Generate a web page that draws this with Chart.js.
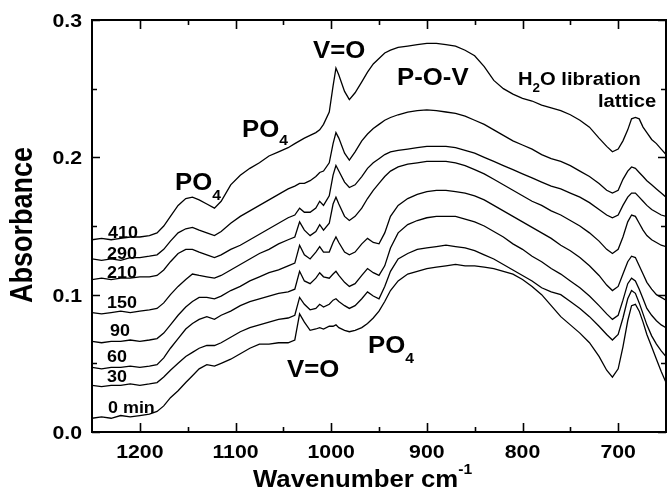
<!DOCTYPE html>
<html>
<head>
<meta charset="utf-8">
<script src="https://cdn.jsdelivr.net/npm/chart.js@4"></script>
<style>
  body { margin: 0; background: #fff; }
  #wrap { width: 667px; height: 489px; }
</style>
</head>
<body>
<div id="wrap"><canvas id="irChart" width="667" height="489"></canvas></div>
<script>
// Wavenumbers (cm-1), shared by all spectra
const wavenumbers = [
  1250, 1240, 1230, 1220, 1210, 1200, 1190, 1182, 1175, 1168,
  1160, 1152, 1145, 1138, 1130, 1122, 1115, 1105, 1095, 1085,
  1075, 1065, 1055, 1045, 1038, 1033, 1028, 1022, 1016, 1012,
  1008, 1002, 998, 995, 992, 986, 981, 975, 968, 962,
  956, 950, 944, 938, 930, 920, 910, 900, 890, 880,
  870, 860, 850, 840, 830, 820, 810, 800, 790, 780,
  770, 760, 750, 740, 730, 720, 712, 706, 700, 695,
  690, 686, 682, 678, 674, 670, 665, 660, 655, 650
];

// Absorbance of each spectrum (time in min)
const abs410 = [
  .140, .141, .140, .141, .142, .142, .143, .145, .150, .157,
  .165, .170, .171, .169, .166, .163, .168, .180, .187, .192,
  .196, .201, .204, .207, .210, .212, .214, .216, .218, .220,
  .224, .233, .252, .265, .260, .248, .242, .247, .255, .262,
  .268, .272, .276, .278, .280, .281, .282, .283, .283, .282,
  .281, .278, .274, .266, .256, .250, .246, .243, .241, .238,
  .236, .234, .231, .227, .222, .214, .208, .204, .206, .212,
  .220, .228, .229, .228, .222, .218, .213, .210, .206, .202
];
const abs290 = [
  .126, .125, .126, .125, .127, .127, .128, .129, .133, .139,
  .145, .148, .149, .147, .145, .143, .146, .152, .157, .161,
  .165, .169, .173, .177, .179, .181, .181, .183, .186, .189,
  .190, .196, .210, .218, .214, .203, .198, .204, .212, .217,
  .221, .224, .227, .229, .231, .233, .234, .2345, .234, .233,
  .232, .230, .227, .224, .220, .216, .212, .209, .206, .202,
  .199, .197, .194, .190, .186, .181, .176, .174, .176, .184,
  .190, .193, .192, .189, .186, .183, .180, .177, .174, .171
];
const abs210 = [
  .111, .112, .111, .112, .112, .113, .113, .114, .118, .124,
  .130, .133, .133, .131, .129, .127, .129, .133, .136, .140,
  .144, .148, .152, .156, .158, .163, .160, .160, .163, .168,
  .165, .172, .187, .194, .190, .182, .178, .180, .186, .192,
  .196, .199, .202, .204, .205, .206, .207, .208, .208, .208,
  .207, .205, .203, .200, .197, .194, .191, .188, .185, .182,
  .179, .177, .174, .171, .167, .162, .158, .156, .158, .165,
  .171, .174, .174, .171, .168, .165, .162, .160, .158, .157
];
const abs150 = [
  .087, .086, .087, .088, .087, .088, .089, .090, .094, .100,
  .106, .111, .115, .114, .113, .112, .114, .118, .122, .126,
  .130, .133, .137, .140, .142, .153, .147, .143, .146, .151,
  .147, .152, .166, .171, .166, .157, .154, .157, .163, .170,
  .176, .181, .186, .190, .193, .195, .196, .197, .197, .197,
  .196, .194, .191, .188, .184, .180, .176, .172, .168, .165,
  .161, .158, .154, .150, .145, .139, .133, .130, .133, .142,
  .153, .158, .157, .152, .147, .143, .140, .138, .136, .135
];
const abs90 = [
  .066, .065, .066, .066, .067, .066, .067, .068, .072, .078,
  .085, .091, .095, .098, .098, .097, .099, .103, .106, .110,
  .113, .116, .118, .121, .123, .136, .129, .126, .131, .135,
  .131, .131, .138, .142, .138, .131, .129, .131, .137, .141,
  .138, .137, .145, .157, .165, .170, .173, .175, .176, .176,
  .175, .174, .172, .169, .165, .161, .157, .153, .149, .145,
  .141, .136, .132, .127, .121, .114, .107, .103, .106, .115,
  .124, .128, .127, .121, .115, .109, .104, .100, .098, .096
];
const abs60 = [
  .047, .046, .047, .047, .048, .047, .048, .049, .054, .061,
  .068, .075, .079, .082, .084, .082, .085, .088, .092, .095,
  .097, .099, .101, .102, .104, .117, .110, .108, .112, .116,
  .113, .112, .115, .117, .114, .109, .106, .108, .114, .119,
  .116, .114, .121, .134, .145, .151, .154, .156, .157, .157,
  .157, .155, .153, .150, .146, .142, .137, .133, .128, .124,
  .119, .115, .110, .105, .099, .092, .086, .082, .085, .096,
  .108, .112, .110, .104, .097, .090, .085, .081, .078, .076
];
const abs30 = [
  .034, .033, .034, .034, .035, .034, .035, .036, .040, .045,
  .050, .055, .058, .061, .063, .063, .065, .069, .073, .076,
  .078, .080, .082, .083, .085, .098, .093, .089, .090, .093,
  .091, .093, .096, .097, .095, .092, .090, .092, .097, .102,
  .099, .097, .106, .117, .126, .130, .133, .134, .135, .136,
  .135, .134, .132, .129, .126, .122, .118, .114, .110, .105,
  .102, .100, .095, .090, .084, .077, .071, .067, .071, .083,
  .097, .103, .101, .094, .086, .078, .070, .064, .059, .055
];
const abs0 = [
  .010, .011, .010, .012, .011, .012, .013, .015, .019, .025,
  .030, .036, .041, .046, .049, .048, .050, .053, .057, .061,
  .064, .064, .065, .065, .067, .086, .080, .074, .075, .076,
  .075, .077, .077, .078, .076, .074, .073, .074, .076, .079,
  .083, .088, .095, .103, .110, .115, .117, .119, .120, .121,
  .122, .121, .121, .120, .119, .117, .115, .111, .106, .100,
  .092, .084, .078, .072, .065, .055, .045, .040, .046, .062,
  .081, .092, .093, .088, .080, .071, .062, .053, .044, .036
];

const spectra = [abs410, abs290, abs210, abs150, abs90, abs60, abs30, abs0];
const timeLabels = ['410', '290', '210', '150', '90', '60', '30', '0 min'];

// Axis ticks
const xMajor = [1200, 1100, 1000, 900, 800, 700];
const xMinor = [1150, 1050, 950, 850, 750];
const yMajor = [0.0, 0.1, 0.2, 0.3];
const yMinor = [0.05, 0.15, 0.25];

const FONT = '"Liberation Sans", Arial, Helvetica, sans-serif';
const SX = 1.12; // the original lettering is a bit wide

// left x, baseline y of each time label
const timePos = [[108, 238], [107, 259], [107, 278], [107, 308], [110, 336], [107, 362], [107, 382], [108, 413]];

// annotations: pieces of text [string, size, baseline shift]
const notes = [
  { x: 175, y: 190, parts: [['PO', 23, 0], ['4', 14, 10]] },
  { x: 242, y: 137, parts: [['PO', 23, 0], ['4', 14, 8]] },
  { x: 313, y: 58, parts: [['V=O', 23, 0]] },
  { x: 397, y: 85, parts: [['P-O-V', 23, 0]] },
  { x: 518, y: 85, parts: [['H', 18, 0], ['2', 12, 7], ['O libration', 18, 0]] },
  { x: 598, y: 107, parts: [['lattice', 18, 0]] },
  { x: 287, y: 377, parts: [['V=O', 23, 0]] },
  { x: 368, y: 353, parts: [['PO', 23, 0], ['4', 14, 10]] }
];

function wideText(ctx, str, x, y, size, align) {
  ctx.save();
  ctx.translate(x, y);
  ctx.scale(SX, 1);
  ctx.font = 'bold ' + size + 'px ' + FONT;
  ctx.textAlign = align;
  ctx.fillText(str, 0, 0);
  ctx.restore();
}

function partsText(ctx, parts, x, y) {
  let cx = x;
  parts.forEach(function (p) {
    ctx.font = 'bold ' + p[1] + 'px ' + FONT;
    wideText(ctx, p[0], cx, y + p[2], p[1], 'left');
    cx += ctx.measureText(p[0]).width * SX;
  });
}

// frame, inward ticks and all lettering
const framePlugin = {
  id: 'framePlugin',
  afterDatasetsDraw(chart) {
    const ctx = chart.ctx;
    const a = chart.chartArea;
    const xs = chart.scales.x, ys = chart.scales.y;
    ctx.save();
    ctx.fillStyle = '#000';
    ctx.strokeStyle = '#000';

    ctx.lineWidth = 1.6;
    ctx.beginPath();
    xMajor.concat(xMinor).forEach(function (v) {
      const px = Math.round(xs.getPixelForValue(v)) + 0.5;
      const len = xMajor.includes(v) ? 9 : 5;
      ctx.moveTo(px, a.bottom); ctx.lineTo(px, a.bottom - len);
      ctx.moveTo(px, a.top); ctx.lineTo(px, a.top + len);
    });
    yMajor.concat(yMinor).forEach(function (v) {
      const py = Math.round(ys.getPixelForValue(v)) + 0.5;
      const len = yMajor.includes(v) ? 8 : 5;
      ctx.moveTo(a.left, py); ctx.lineTo(a.left + len, py);
      ctx.moveTo(a.right, py); ctx.lineTo(a.right - len, py);
    });
    ctx.stroke();

    ctx.lineWidth = 2;
    ctx.strokeRect(a.left, a.top, a.right - a.left, a.bottom - a.top);

    xMajor.forEach(function (v) {
      wideText(ctx, String(v), xs.getPixelForValue(v), a.bottom + 26, 19, 'center');
    });
    yMajor.forEach(function (v) {
      wideText(ctx, v.toFixed(1), a.left - 10, ys.getPixelForValue(v) + 7, 19, 'right');
    });

    // axis titles
    ctx.save();
    ctx.translate(23, 225);
    ctx.scale(1.15, 1);
    ctx.rotate(-Math.PI / 2);
    ctx.font = 'bold 27px ' + FONT;
    ctx.textAlign = 'center';
    ctx.textBaseline = 'middle';
    ctx.fillText('Absorbance', 0, 0);
    ctx.restore();
    partsText(ctx, [['Wavenumber cm', 23, 0], ['-1', 14, -13]], 253, 487);

    timeLabels.forEach(function (t, i) {
      wideText(ctx, t, timePos[i][0], timePos[i][1], 16, 'left');
    });
    notes.forEach(function (n) { partsText(ctx, n.parts, n.x, n.y); });
    ctx.restore();
  }
};

const ctx = document.getElementById('irChart').getContext('2d');

const irChart = new Chart(ctx, {
  type: 'line',
  data: {
    datasets: spectra.map(function (s, i) {
      return {
        label: timeLabels[i],
        data: wavenumbers.map(function (w, j) { return { x: w, y: s[j] }; }),
        borderColor: '#000',
        borderWidth: 1.3,
        pointRadius: 0,
        fill: false,
        tension: 0
      };
    })
  },
  options: {
    responsive: false,
    animation: false,
    devicePixelRatio: 1,
    layout: { padding: { top: 20, right: 1, left: 0, bottom: 0 } },
    plugins: { legend: { display: false }, tooltip: { enabled: false } },
    scales: {
      x: {
        type: 'linear', min: 650, max: 1250, reverse: true,
        grid: { display: false }, border: { display: false },
        ticks: { display: false },
        afterFit: function (s) { s.height = 57; }
      },
      y: {
        min: 0, max: 0.3,
        grid: { display: false }, border: { display: false },
        ticks: { display: false },
        afterFit: function (s) { s.width = 92; }
      }
    }
  },
  plugins: [framePlugin]
});
</script>
</body>
</html>
